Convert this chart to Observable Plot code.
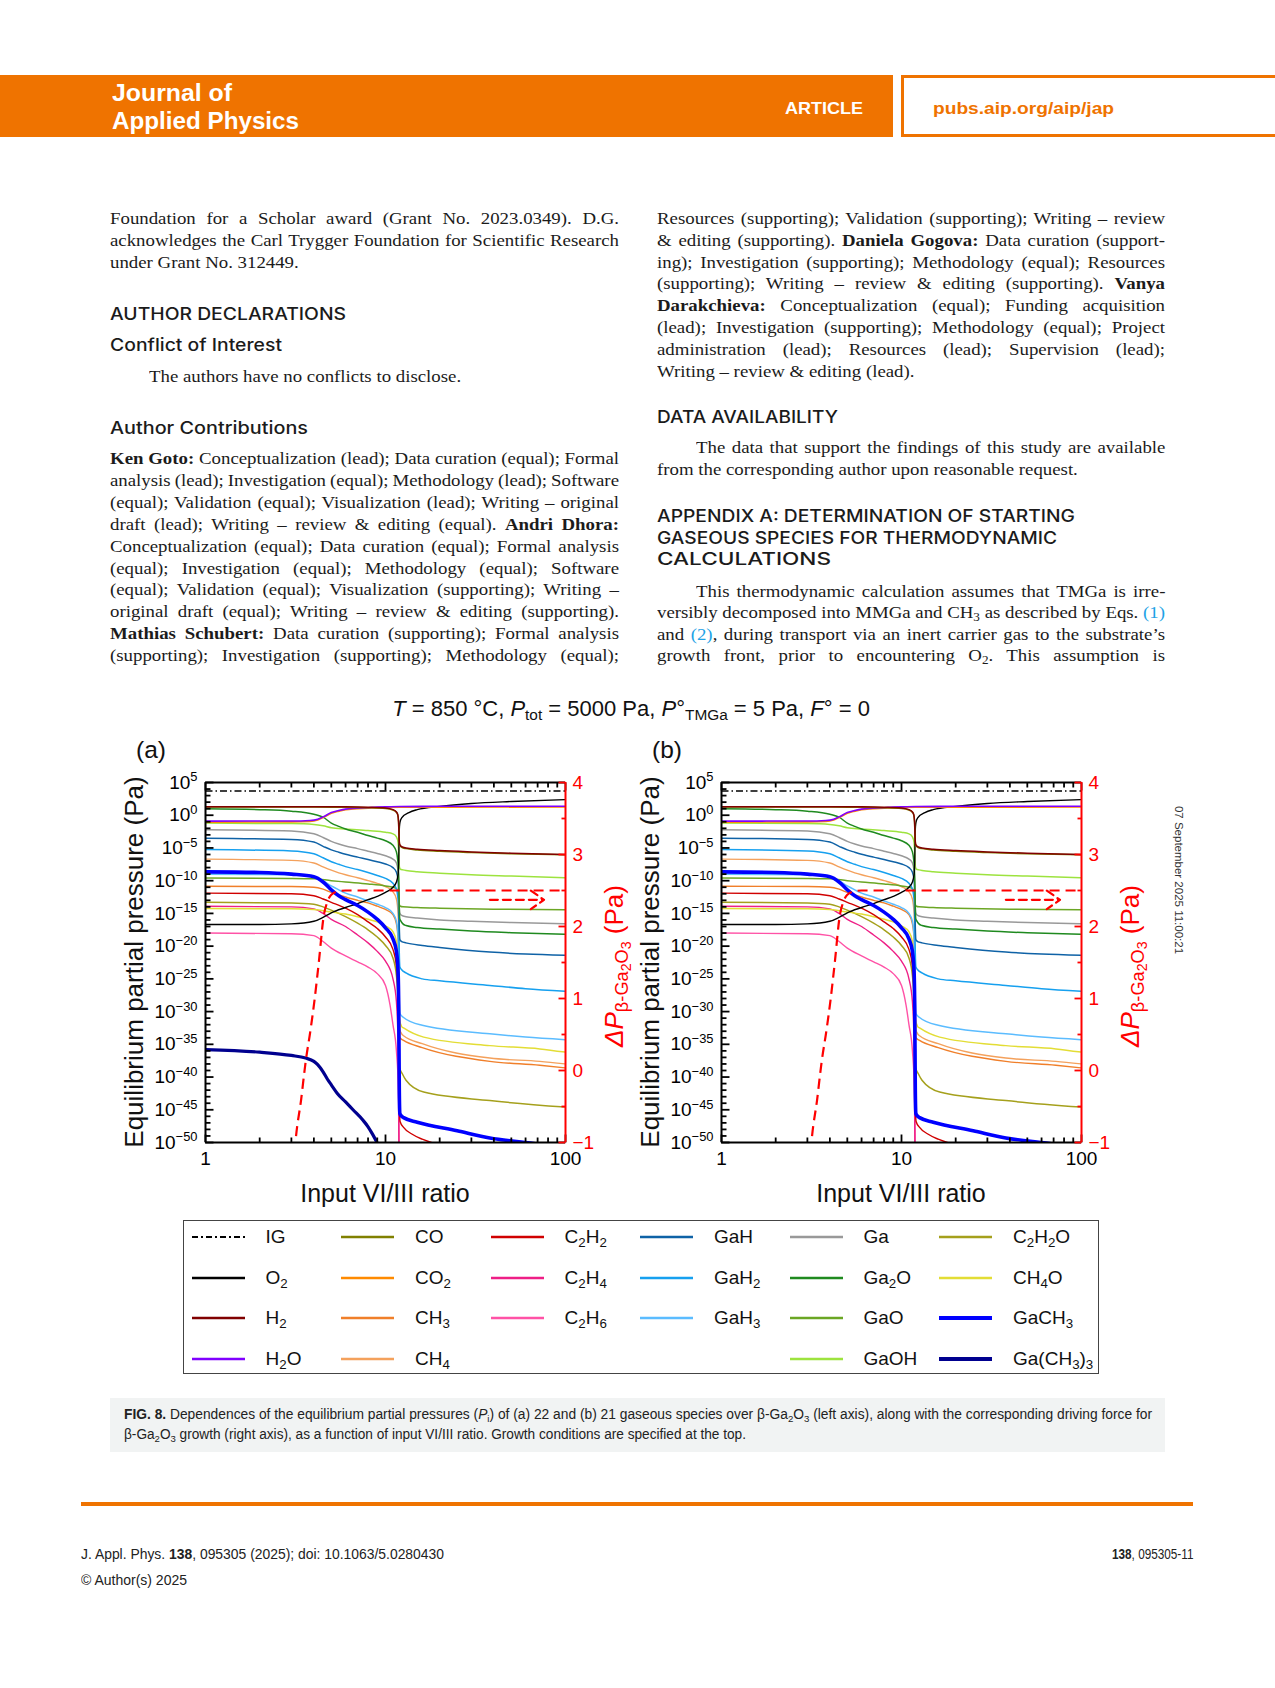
<!DOCTYPE html>
<html>
<head>
<meta charset="utf-8">
<title>Fig. 8 – equilibrium partial pressures over β-Ga2O3</title>
<script src="https://cdn.jsdelivr.net/npm/d3@7"></script>
<script src="https://cdn.jsdelivr.net/npm/@observablehq/plot@0.6"></script>
<style>
html,body{margin:0;padding:0;background:#fff;}
#page{position:relative;width:1275px;height:1688px;overflow:hidden;background:#fff;}
.a{position:absolute;white-space:nowrap;line-height:1;}
.sans{font-family:"Liberation Sans",Arial,Helvetica,sans-serif;}
.serif{font-family:"Liberation Serif","Times New Roman",serif;font-size:17.6px;color:#1b1b1b;transform:scaleX(1.07);transform-origin:0 50%;}
.hd{font-family:Inter,"Open Sans",sans-serif;font-weight:500;font-size:17px;color:#1b1b1b;}
.cap{font-family:"Liberation Sans Narrow","Liberation Sans",Arial,sans-serif;font-size:14px;color:#222;}
sub{font-size:0.7em;line-height:0;vertical-align:-0.28em;}
sub sub{font-size:0.78em;vertical-align:-0.2em;}
.lnk{color:#1ea2e6;}
</style>
</head>
<body>
<div id="page"></div>
<script>
// ================= DATA =================
// x: input VI/III ratio ; value: log10 of equilibrium partial pressure (Pa)
const pIG    = [[1,3.7],[100,3.7]];
const pO2    = [[1,-16.7],[2,-16.7],[3,-16.6],[4,-16.2],[4.5,-15.6],[5,-14.9],[6,-14.1],[7,-13.5],[8,-12.9],[9,-12.4],[10,-11.8],[11,-11.0],[11.5,-10.2],[11.75,-9.0],[11.85,-7.0],[11.9,-3.5],[11.95,-1.8],[12.05,-1.0],[12.3,-0.4],[13.5,0.4],[15,0.85],[20,1.35],[30,1.8],[50,2.1],[100,2.38]];
const pH2    = [[1,1.3],[4,1.3],[6,1.28],[8,1.22],[10,1.1],[11,0.85],[11.5,0.5],[11.7,0.1],[11.82,-1.0],[11.9,-3.5],[12.0,-4.5],[12.3,-4.8],[13,-5.0],[15,-5.2],[20,-5.4],[30,-5.6],[50,-5.8],[100,-6.0]];
const pCO    = [[1,1.24],[4,1.24],[6,1.22],[8,1.16],[10,1.04],[11,0.8],[11.5,0.45],[11.7,0.05],[11.82,-1.1],[11.9,-3.6],[12.0,-4.6],[12.3,-4.9],[13,-5.1],[15,-5.3],[20,-5.5],[30,-5.7],[50,-5.9],[100,-6.05]];
const pH2O   = [[1,-0.9],[3,-0.88],[3.8,-0.8],[4.2,-0.6],[4.5,-0.25],[5,0.4],[5.5,0.72],[6,0.93],[8,1.15],[10,1.27],[12,1.33],[20,1.36],[100,1.38]];
const pCO2   = [[1,-1.05],[3,-1.02],[3.8,-0.95],[4.2,-0.72],[4.5,-0.35],[5,0.3],[5.5,0.62],[6,0.85],[8,1.08],[10,1.18],[12,1.22],[20,1.24],[100,1.25]];
const pGaOH  = [[1,-1.2],[3,-1.28],[4,-1.4],[4.5,-1.6],[5,-1.9],[6,-2.1],[8,-2.35],[10,-2.6],[11,-2.85],[11.5,-3.3],[11.75,-4.2],[11.85,-6.0],[11.95,-7.9],[12.1,-8.25],[12.5,-8.35],[13,-8.45],[15,-8.65],[20,-8.85],[30,-9.1],[50,-9.3],[100,-9.56]];
const pGa2O  = [[1,0.98],[2,0.85],[3,0.62],[4,0.15],[4.5,-0.3],[5,-1.2],[5.5,-1.7],[6,-2.1],[7,-2.6],[8,-3.1],[9,-3.5],[10,-3.9],[11,-4.6],[11.5,-5.6],[11.75,-7.5],[11.85,-10],[11.92,-14],[12.0,-15.8],[12.2,-16.2],[12.5,-16.6],[13,-16.85],[15,-17.15],[20,-17.4],[30,-17.7],[50,-17.95],[100,-18.2]];
const pGa    = [[1,-2.23],[3,-2.4],[4,-2.84],[4.5,-3.4],[5,-4.0],[5.5,-4.4],[6,-4.7],[7,-5.1],[8,-5.5],[9,-5.85],[10,-6.2],[11,-6.7],[11.5,-7.3],[11.75,-8.5],[11.85,-10.5],[11.93,-14],[12.02,-15.0],[12.3,-15.3],[13,-15.5],[15,-15.7],[20,-16.0],[30,-16.2],[50,-16.4],[100,-16.6]];
const pGaH   = [[1,-3.5],[3,-3.7],[4,-4.1],[4.5,-4.75],[5,-5.3],[5.5,-5.65],[6,-5.95],[7,-6.4],[8,-6.75],[9,-7.1],[10,-7.45],[11,-8.0],[11.5,-8.7],[11.75,-10],[11.85,-12.5],[11.93,-17],[12.02,-19.0],[12.3,-19.3],[13,-19.5],[16,-19.9],[20,-20.2],[38,-20.9],[60,-21.2],[100,-21.4]];
const pGaH2  = [[1,-5.25],[3,-5.45],[4,-5.9],[4.5,-6.5],[5,-7.1],[5.5,-7.5],[6,-7.85],[7,-8.3],[8,-8.75],[9,-9.2],[10,-9.65],[11,-10.4],[11.5,-11.3],[11.75,-13],[11.85,-16],[11.93,-21],[12.02,-23.2],[12.3,-23.6],[13,-24.1],[16,-25.0],[20,-25.3],[38,-26.0],[60,-26.5],[100,-26.9]];
const pGaH3  = [[1,-9.0],[3,-9.1],[4,-9.4],[4.5,-10.0],[5,-10.8],[5.5,-11.4],[6,-11.9],[7,-12.5],[8,-13.1],[9,-13.6],[10,-14.1],[11,-15.0],[11.5,-16.2],[11.75,-18.5],[11.85,-22],[11.93,-28],[12.03,-30.3],[12.6,-30.9],[16,-32.1],[38,-33.4],[60,-33.9],[100,-34.3]];
const pCH4   = [[1,-6.7],[3,-6.9],[4,-7.3],[4.5,-7.9],[5,-8.4],[5.5,-8.8],[6,-9.1],[7,-9.55],[8,-10.0],[9,-10.4],[10,-10.9],[11,-11.7],[11.5,-12.8],[11.75,-15],[11.85,-19],[11.93,-28],[12.03,-32.8],[12.3,-33.4],[12.6,-33.7],[16,-34.9],[38,-37.1],[72,-37.6],[100,-38.0]];
const pCH3   = [[1,-10.85],[3,-10.9],[4,-11.0],[4.5,-11.3],[5,-11.8],[6,-12.5],[7,-13.0],[8,-13.4],[9,-13.9],[10,-14.4],[11,-15.2],[11.5,-16.6],[11.75,-19],[11.85,-23],[11.93,-31],[12.03,-34.0],[12.6,-34.4],[16,-35.5],[38,-37.6],[72,-38.2],[100,-38.6]];
const pGaCH3 = [[1,-8.65],[2,-8.75],[3,-9.0],[4,-9.4],[4.5,-10.2],[5,-11.4],[5.5,-12.3],[6,-12.9],[7,-13.8],[8,-14.8],[9,-15.9],[10,-17.2],[11,-18.9],[11.5,-20.8],[11.75,-24],[11.85,-30],[11.93,-42],[12.02,-45.6],[12.3,-46.0],[12.6,-46.2],[15,-46.9],[25,-48.2],[38,-49.3],[64,-50.1],[100,-50.8]];
const pGaO   = [[1,-9.6],[3,-9.65],[4,-9.7],[5,-10.0],[6,-10.2],[8,-10.5],[10,-10.8],[11,-11.0],[11.5,-11.2],[11.75,-11.7],[11.87,-12.8],[11.95,-13.7],[12.1,-13.9],[12.5,-14.0],[15,-14.1],[20,-14.2],[40,-14.35],[100,-14.45]];
const pC2H2  = [[1,-11.9],[3,-12.0],[4,-12.3],[4.5,-12.8],[5,-13.3],[6,-14.2],[7,-15.2],[8,-16.3],[9,-17.3],[10,-18.6],[11,-20.5],[11.5,-23],[11.75,-28],[11.85,-36],[11.93,-44],[12.05,-46.8],[12.6,-47.7],[14,-48.7],[16,-49.5],[18.5,-50.1],[25,-51]];
const pC2H2O = [[1,-13.3],[3,-13.4],[4,-13.6],[4.5,-14.0],[5,-14.5],[6,-15.5],[7,-16.5],[8,-17.5],[9,-18.6],[10,-19.9],[11,-21.8],[11.5,-24.5],[11.75,-29],[11.85,-34],[11.95,-38.5],[12.4,-39.5],[13,-40.5],[16.3,-42.3],[38,-43.6],[100,-44.6]];
const pCH4O  = [[1,-14.25],[3,-14.3],[4,-14.4],[4.5,-14.6],[5,-14.8],[6,-15.1],[7,-15.5],[8,-15.9],[9,-16.3],[10,-16.9],[11,-17.8],[11.5,-19.3],[11.75,-22.5],[11.85,-27],[11.95,-31.2],[12.3,-32.3],[12.6,-32.5],[16.3,-33.9],[38,-35.2],[72,-35.7],[100,-36.2]];
const pC2H4  = [[1,-13.9],[3,-14.0],[4,-14.3],[4.5,-15.0],[5,-15.9],[6,-17.0],[7,-18.3],[8,-19.5],[9,-20.8],[10,-22.3],[11,-25.0],[11.5,-28.5],[11.75,-35],[11.85,-48],[11.9,-60]];
const pC2H6  = [[1,-18.0],[3,-18.1],[4,-18.4],[4.5,-19.3],[5,-20.3],[6,-21.5],[7,-22.4],[8,-23.2],[9,-24.2],[10,-26.0],[10.6,-29.0],[11,-32.0],[11.5,-36.0],[11.8,-42.0],[11.93,-52],[11.97,-60]];
const pGaMe3 = [[1,-35.8],[2,-36.2],[3,-36.7],[3.6,-37.1],[4,-37.6],[4.2,-38.1],[4.5,-39.2],[4.75,-40.3],[5,-41.2],[5.4,-42.5],[6,-43.8],[6.6,-45.0],[7.5,-46.6],[8,-47.6],[8.5,-48.8],[9,-50.1],[9.5,-51.5]];
// driving force ΔP for β-Ga2O3 (Pa, right axis)
const drivingForce = [[3.0,-1.8],[3.16,-1.0],[3.4,-0.4],[3.6,0.12],[3.83,0.56],[4.03,0.97],[4.26,1.5],[4.54,2.15],[4.75,2.34],[5.0,2.44],[5.5,2.49],[6,2.5],[10,2.5],[100,2.5]];
const axisArrow = [{x1:38, x2:76, y:2.37}];

// tick values
const ratioMajor = [1, 10, 100];
const ratioMinor = [2,3,4,5,6,7,8,9,20,30,40,50,60,70,80,90];
const pressureMajorExp = [5,0,-5,-10,-15,-20,-25,-30,-35,-40,-45,-50];
const pressureMinorExp = d3.range(-50, 6).filter(e => e % 5 !== 0);
const forceMajor = [-1,0,1,2,3,4];
const forceMinor = [-0.5,0.5,1.5,2.5,3.5];

// species (label, series)
const seriesA = [
  ["IG",pIG],["C2H6",pC2H6],["C2H4",pC2H4],["C2H2O",pC2H2O],["CH4O",pCH4O],["C2H2",pC2H2],
  ["CH4",pCH4],["CH3",pCH3],["GaO",pGaO],["GaH3",pGaH3],["GaH2",pGaH2],["GaH",pGaH],["Ga",pGa],
  ["GaOH",pGaOH],["Ga2O",pGa2O],["O2",pO2],["CO2",pCO2],["H2O",pH2O],["CO",pCO],["H2",pH2],
  ["Ga(CH3)3",pGaMe3],["GaCH3",pGaCH3]
];
const seriesB = seriesA.filter(s => s[0] !== "Ga(CH3)3");

const legendColumns = [
  ["IG","O2","H2","H2O"],
  ["CO","CO2","CH3","CH4"],
  ["C2H2","C2H4","C2H6"],
  ["GaH","GaH2","GaH3"],
  ["Ga","Ga2O","GaO","GaOH"],
  ["C2H2O","CH4O","GaCH3","Ga(CH3)3"]
];

// ================= STYLES =================
const sty = {
  "IG":{c:"#000000",w:1.5,dash:"7,3,1.5,3"},
  "O2":{c:"#000000",w:1.4},
  "H2":{c:"#800000",w:1.5},
  "H2O":{c:"#8000ff",w:1.6},
  "CO":{c:"#808000",w:1.5},
  "CO2":{c:"#ff8a00",w:1.6},
  "CH3":{c:"#f07f2a",w:1.4},
  "CH4":{c:"#f4a15c",w:1.4},
  "C2H2":{c:"#d00000",w:1.4},
  "C2H4":{c:"#ee1f86",w:1.4},
  "C2H6":{c:"#ff52a6",w:1.4},
  "GaH":{c:"#0f62a6",w:1.5},
  "GaH2":{c:"#16a0ef",w:1.5},
  "GaH3":{c:"#5bbcff",w:1.5},
  "Ga":{c:"#999999",w:1.5},
  "Ga2O":{c:"#1f8a1f",w:1.5},
  "GaO":{c:"#6ba624",w:1.5},
  "GaOH":{c:"#9de33e",w:1.5},
  "C2H2O":{c:"#a5a01c",w:1.5},
  "CH4O":{c:"#e3dd35",w:1.5},
  "GaCH3":{c:"#0000ff",w:3.6},
  "Ga(CH3)3":{c:"#00008f",w:3.2}
};
const FONT = '"Liberation Sans", Arial, Helvetica, sans-serif';
const page = document.getElementById('page');

function el(html, cls, x, y, st) {
  const d = document.createElement('div');
  d.className = 'a ' + cls;
  d.innerHTML = html;
  d.style.left = x + 'px';
  d.style.top = y + 'px';
  if (st) Object.assign(d.style, st);
  page.appendChild(d);
  return d;
}
function fit(d, W, origin) {
  const n = d.getBoundingClientRect().width;
  d.style.transformOrigin = origin || '0 50%';
  d.style.transform = `scaleX(${W / n})`;
}
const SX = 1.07;
function serif(html, x, yc, W, justify) {
  const d = el(html, 'serif', x, yc - 9.7);
  if (justify) {
    const n = d.getBoundingClientRect().width / SX;
    const k = (d.textContent.match(/ /g) || []).length;
    if (k) d.style.wordSpacing = ((W / SX - n) / k) + 'px';
  }
  return d;
}
function heading(txt, x, yc, W) { fit(el(txt, 'hd', x, yc - 8.6), W); }
const sub = s => s.replace(/(\d)/g, '<sub>$1</sub>');

// ================= HEADER =================
el('', '', 0, 75, {width:'893px', height:'62px', background:'#ef7300'});
el('', '', 901, 75, {width:'420px', height:'62px', border:'3px solid #ef7300', boxSizing:'border-box'});
fit(el('Journal of', 'sans', 112, 81.5, {fontSize:'23px', fontWeight:'bold', color:'#fff'}), 120);
fit(el('Applied Physics', 'sans', 112, 110, {fontSize:'23px', fontWeight:'bold', color:'#fff'}), 187);
fit(el('ARTICLE', 'sans', 785, 99.5, {fontSize:'16.5px', fontWeight:'bold', color:'#fff'}), 78);
fit(el('pubs.aip.org/aip/jap', 'sans', 932.5, 99.6, {fontSize:'17px', fontWeight:'bold', color:'#ef7300'}), 181);

// ================= BODY TEXT =================
const LX = 110, LW = 509, RX = 657, RW = 508, IND = 38.6;
serif('Foundation for a Scholar award (Grant No. 2023.0349). D.G.', LX, 219.5, LW, 1);
serif('acknowledges the Carl Trygger Foundation for Scientific Research', LX, 241.4, LW, 1);
serif('under Grant No. 312449.', LX, 263.2, LW, 0);
heading('AUTHOR DECLARATIONS', LX, 314.5, 236);
heading('Conflict of Interest', LX, 345.7, 172);
serif('The authors have no conflicts to disclose.', LX + IND, 378, LW, 0);
heading('Author Contributions', LX, 428.6, 198);
const leftPara = [
  '<b>Ken Goto:</b> Conceptualization (lead); Data curation (equal); Formal',
  'analysis (lead); Investigation (equal); Methodology (lead); Software',
  '(equal); Validation (equal); Visualization (lead); Writing – original',
  'draft (lead); Writing – review &amp; editing (equal). <b>Andri Dhora:</b>',
  'Conceptualization (equal); Data curation (equal); Formal analysis',
  '(equal); Investigation (equal); Methodology (equal); Software',
  '(equal); Validation (equal); Visualization (supporting); Writing –',
  'original draft (equal); Writing – review &amp; editing (supporting).',
  '<b>Mathias Schubert:</b> Data curation (supporting); Formal analysis',
  '(supporting); Investigation (supporting); Methodology (equal);'
];
leftPara.forEach((h, i) => serif(h, LX, 460 + i * 21.85, LW, 1));

const rightPara = [
  'Resources (supporting); Validation (supporting); Writing – review',
  '&amp; editing (supporting). <b>Daniela Gogova:</b> Data curation (support-',
  'ing); Investigation (supporting); Methodology (equal); Resources',
  '(supporting); Writing – review &amp; editing (supporting). <b>Vanya</b>',
  '<b>Darakchieva:</b> Conceptualization (equal); Funding acquisition',
  '(lead); Investigation (supporting); Methodology (equal); Project',
  'administration (lead); Resources (lead); Supervision (lead);'
];
rightPara.forEach((h, i) => serif(h, RX, 219.5 + i * 21.85, RW, 1));
serif('Writing – review &amp; editing (lead).', RX, 372.5, RW, 0);
heading('DATA AVAILABILITY', RX, 417.9, 181);
serif('The data that support the findings of this study are available', RX + IND, 449, RW - IND, 1);
serif('from the corresponding author upon reasonable request.', RX, 470.7, RW, 0);
heading('APPENDIX A: DETERMINATION OF STARTING', RX, 517, 418);
heading('GASEOUS SPECIES FOR THERMODYNAMIC', RX, 538.5, 400);
heading('CALCULATIONS', RX, 560, 174);
serif('This thermodynamic calculation assumes that TMGa is irre-', RX + IND, 592.4, RW - IND, 1);
serif('versibly decomposed into MMGa and CH<sub>3</sub> as described by Eqs. <span class="lnk">(1)</span>', RX, 614, RW, 1);
serif('and <span class="lnk">(2)</span>, during transport via an inert carrier gas to the substrate’s', RX, 635.5, RW, 1);
serif('growth front, prior to encountering O<sub>2</sub>. This assumption is', RX, 657, RW, 1);

// side stamp
el('07 September 2025 11:00:21', 'sans', 1178, 880, {fontSize:'11.5px', color:'#333', transform:'translate(-50%,-50%) rotate(90deg)'});

// ================= FIGURE =================
el('<i>T</i> = 850 °C, <i>P</i><sub>tot</sub> = 5000 Pa, <i>P</i>°<sub>TMGa</sub> = 5 Pa, <i>F</i>° = 0',
  'sans', 631, 697.5, {fontSize:'22px', color:'#111', transform:'translateX(-50%)'});

const tickMark = (dx, dy) => ({draw(ctx) { ctx.moveTo(0, 0); ctx.lineTo(dx, dy); }});
const W = 540, H = 450, ML = 110, MR = 70, MT = 30, MB = 60;

function pressurePlot(series) {
  const lines = series.map(([name, data]) => Plot.line(data, {
    x: d => d[0], y: d => Math.pow(10, d[1]),
    stroke: sty[name].c, strokeWidth: sty[name].w,
    strokeDasharray: sty[name].dash, curve: "monotone-x", clip: true,
    strokeLinecap: sty[name].dash ? "butt" : "round"
  }));
  const yMaj = pressureMajorExp.map(e => Math.pow(10, e));
  const yMin = pressureMinorExp.map(e => Math.pow(10, e));
  const svg = Plot.plot({
    width: W, height: H, marginLeft: ML, marginRight: MR, marginTop: MT, marginBottom: MB,
    x: {type: "log", domain: [1, 100]},
    y: {type: "log", domain: [1e-50, 1e5]},
    style: {fontFamily: FONT, fontSize: "19px", color: "#000", background: "transparent", overflow: "visible"},
    marks: [
      ...lines,
      Plot.dot(yMaj, {x: 1, y: d => d, symbol: tickMark(8, 0), stroke: "#000", strokeWidth: 1.8, fill: "none"}),
      Plot.dot(yMin, {x: 1, y: d => d, symbol: tickMark(5, 0), stroke: "#000", strokeWidth: 1.8, fill: "none"}),
      Plot.dot(ratioMajor, {x: d => d, y: 1e-50, symbol: tickMark(0, -8), stroke: "#000", strokeWidth: 1.8, fill: "none"}),
      Plot.dot(ratioMinor, {x: d => d, y: 1e-50, symbol: tickMark(0, -5), stroke: "#000", strokeWidth: 1.8, fill: "none"}),
      Plot.dot(ratioMajor, {x: d => d, y: 1e5, symbol: tickMark(0, 8), stroke: "#000", strokeWidth: 1.8, fill: "none"}),
      Plot.dot(ratioMinor, {x: d => d, y: 1e5, symbol: tickMark(0, 5), stroke: "#000", strokeWidth: 1.8, fill: "none"}),
      Plot.ruleX([1], {stroke: "#000", strokeWidth: 2}),
      Plot.ruleY([1e5], {stroke: "#000", strokeWidth: 2}),
      Plot.ruleY([1e-50], {stroke: "#000", strokeWidth: 2}),
      Plot.axisY({ticks: yMaj, tickSize: 0, tickPadding: 8, label: null,
        tickFormat: d => "10^" + Math.round(Math.log10(d))}),
      Plot.axisX({ticks: ratioMajor, tickSize: 0, tickPadding: 9, label: null, tickFormat: d => String(d)})
    ]
  });
  d3.select(svg).selectAll('g[aria-label="y-axis tick label"] text').each(function () {
    const t = this.textContent;
    if (t.indexOf('^') < 0) return;
    const [b, e] = t.split('^');
    const s = d3.select(this);
    s.text(null);
    s.append('tspan').text(b);
    s.append('tspan').attr('dy', '-0.55em').attr('font-size', '0.68em').text(e.replace('-', '\u2212'));
  });
  return svg;
}

function forcePlot() {
  return Plot.plot({
    width: W, height: H, marginLeft: ML, marginRight: MR, marginTop: MT, marginBottom: MB,
    x: {type: "log", domain: [1, 100], axis: null},
    y: {domain: [-1, 4]},
    style: {fontFamily: FONT, fontSize: "19px", background: "transparent", overflow: "visible"},
    marks: [
      Plot.line(drivingForce, {x: d => d[0], y: d => d[1], stroke: "#ff0000", strokeWidth: 2.2,
        strokeDasharray: "10,6", curve: "monotone-x", clip: true, strokeLinecap: "butt"}),
      Plot.arrow(axisArrow, {x1: "x1", x2: "x2", y1: "y", y2: "y", stroke: "#ff0000", strokeWidth: 2.2,
        strokeDasharray: "8,5", headLength: 11, headAngle: 70}),
      Plot.dot(forceMajor, {x: 100, y: d => d, symbol: tickMark(-7, 0), stroke: "#ff0000", strokeWidth: 1.8, fill: "none"}),
      Plot.dot(forceMinor, {x: 100, y: d => d, symbol: tickMark(-4, 0), stroke: "#ff0000", strokeWidth: 1.8, fill: "none"}),
      Plot.ruleX([100], {stroke: "#ff0000", strokeWidth: 2}),
      Plot.axisY({anchor: "right", ticks: forceMajor, tickSize: 0, tickPadding: 7, label: null, fill: "#ff0000",
        tickFormat: d => d < 0 ? "\u2212" + (-d) : String(d)})
    ]
  });
}

function place(svg, left, top) {
  svg.style.position = 'absolute';
  svg.style.left = left + 'px';
  svg.style.top = top + 'px';
  svg.style.maxWidth = 'none';
  page.appendChild(svg);
}
const panels = [
  {left: 205, series: seriesA, tag: '(a)'},
  {left: 721, series: seriesB, tag: '(b)'}
];
panels.forEach(p => {
  place(pressurePlot(p.series), p.left - ML, 782 - MT);
  const ov = forcePlot();
  ov.style.pointerEvents = 'none';
  place(ov, p.left - ML, 782 - MT);
  el(p.tag, 'sans', p.left - 69, 738, {fontSize: '24.5px', color: '#111'});
  el('Input VI/III ratio', 'sans', p.left + 180, 1180.5, {fontSize: '25px', color: '#111', transform: 'translateX(-50%)'});
  el('Equilibrium partial pressure (Pa)', 'sans', p.left - 71, 962,
    {fontSize: '26px', color: '#111', transform: 'translate(-50%,-50%) rotate(-90deg)'});
  el('<i>ΔP</i><sub>β-Ga<sub>2</sub>O<sub>3</sub></sub> (Pa)', 'sans', p.left + 409, 966,
    {fontSize: '26px', color: '#ff0000', transform: 'translate(-50%,-50%) rotate(-90deg)'});
});

// ================= LEGEND =================
el('', '', 183, 1220, {width: '916px', height: '154px', border: '1.5px solid #444', boxSizing: 'border-box'});
legendColumns.forEach((col, ci) => {
  col.forEach((name, ri) => {
    const y = 1237 + ri * 40.5;
    const x0 = 191.5 + ci * 149.5;
    const s = sty[name];
    const lw = name === "GaCH3" || name === "Ga(CH3)3" ? 4 : (name === "IG" ? 2 : 2.6);
    el(`<svg width="56" height="10" style="display:block"><line x1="1" y1="5" x2="54" y2="5" stroke="${s.c}" stroke-width="${lw}" ${s.dash ? 'stroke-dasharray="6,3,2,3"' : ''}/></svg>`,
      '', x0 - 1, y - 5);
    el(sub(name), 'sans', x0 + 74, y + 6.5 - 0.8465 * 19, {fontSize: '19px', color: '#111'});
  });
});

// ================= CAPTION =================
el('', '', 110, 1398, {width: '1055px', height: '54px', background: '#f1f3f3'});
fit(el('<b>FIG. 8.</b> Dependences of the equilibrium partial pressures (<i>P</i><sub>i</sub>) of (a) 22 and (b) 21 gaseous species over β-Ga<sub>2</sub>O<sub>3</sub> (left axis), along with the corresponding driving force for',
  'cap', 124, 1407), 1028);
fit(el('β-Ga<sub>2</sub>O<sub>3</sub> growth (right axis), as a function of input VI/III ratio. Growth conditions are specified at the top.',
  'cap', 124, 1427), 622);

// ================= FOOTER =================
el('', '', 81, 1502, {width: '1112px', height: '4px', background: '#ef7300'});
fit(el('J. Appl. Phys. <b>138</b>, 095305 (2025); doi: 10.1063/5.0280430', 'cap', 81, 1547), 363);
fit(el('© Author(s) 2025', 'cap', 81, 1573), 106);
fit(el('<b>138</b>, 095305-11', 'cap', 1111.5, 1547), 81.5);
</script>
</body>
</html>
